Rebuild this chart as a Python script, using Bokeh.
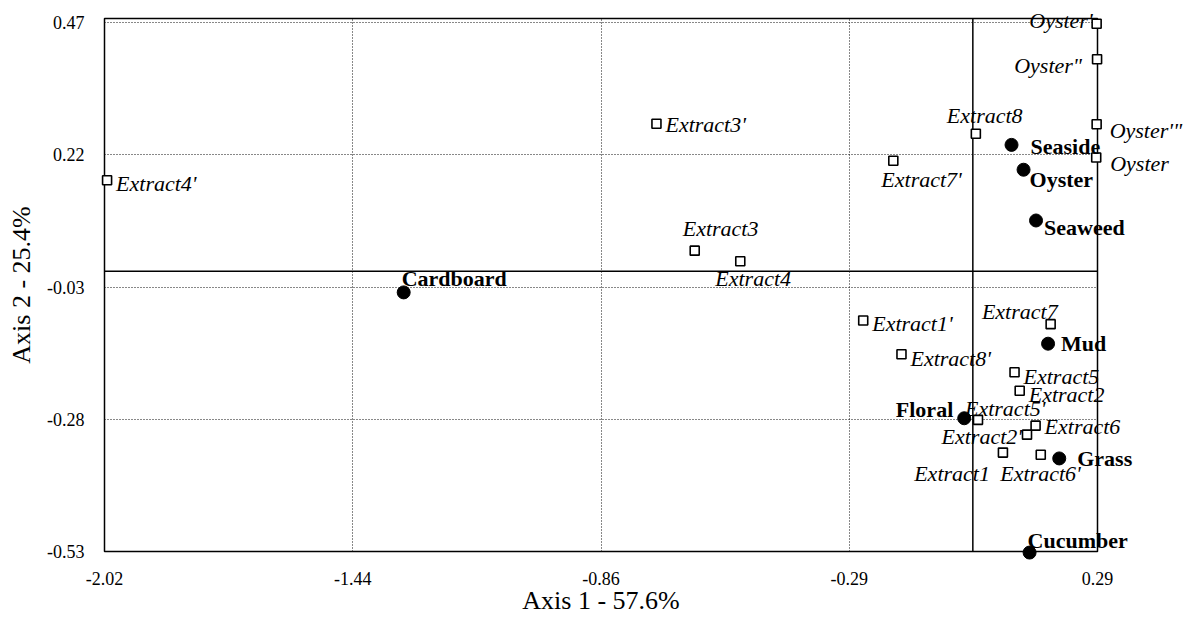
from bokeh.plotting import figure
from bokeh.models import FixedTicker, Span, ColumnDataSource, Range1d
from bokeh.core.properties import value
from bokeh.embed import file_html
from bokeh.resources import INLINE

# ---- data -------------------------------------------------------------
sq_labels = ["Extract4'", "Extract3'", "Extract3", "Extract4", "Extract7'", "Extract8",
             "Oyster'", 'Oyster"', "Oyster'\"", "Oyster",
             "Extract1'", "Extract7", "Extract8'", "Extract5", "Extract2", "Extract5'",
             "Extract6", "Extract2'", "Extract1", "Extract6'"]
sq_x = [-2.014, -0.736, -0.647, -0.541, -0.185, 0.007,
        0.288, 0.289, 0.288, 0.287,
        -0.255, 0.181, -0.166, 0.097, 0.109, 0.012,
        0.146, 0.126, 0.070, 0.158]
sq_y = [0.172, 0.279, 0.039, 0.019, 0.209, 0.260,
        0.468, 0.401, 0.278, 0.215,
        -0.093, -0.100, -0.157, -0.191, -0.226, -0.281,
        -0.292, -0.309, -0.343, -0.347]

ci_labels = ["Seaside", "Oyster", "Seaweed", "Cardboard", "Mud", "Floral", "Grass", "Cucumber"]
ci_x = [0.090, 0.118, 0.147, -1.324, 0.175, -0.020, 0.201, 0.132]
ci_y = [0.239, 0.192, 0.096, -0.040, -0.137, -0.278, -0.354, -0.532]

x_ticks = [-2.02, -1.4425, -0.865, -0.2875, 0.29]
x_tick_labels = ["-2.02", "-1.44", "-0.86", "-0.29", "0.29"]
y_ticks = [-0.53, -0.28, -0.03, 0.22, 0.47]
y_tick_labels = ["-0.53", "-0.28", "-0.03", "0.22", "0.47"]

x_title = "Axis 1 - 57.6%"
y_title = "Axis 2 - 25.4%"

# ---- label placement (style) -----------------------------------------
sq_place = [("left", 9, 3), ("left", 9, 1), ("left", -12, -22), ("left", -25, 17),
            ("left", -12, 19), ("left", -29, -18),
            ("right", -4, -3), ("right", -15, 6), ("left", 13, 6), ("left", 14, 6),
            ("left", 9, 3), ("right", 7, -13), ("left", 9, 4), ("left", 9, 4),
            ("left", 9, 4), ("left", -13, -11), ("left", 9, 1), ("right", -5, 2),
            ("right", -13, 21), ("right", 40, 19)]
ci_place = [("left", 19, 2), ("left", 6, 10), ("left", 8, 7), ("left", -2, -14),
            ("left", 13, 0), ("right", -11, -9), ("left", 18, 0), ("left", -2, -12)]

FONT = "Liberation Serif"

p = figure(width=1183, height=620, output_backend="svg", toolbar_location=None,
           x_range=Range1d(-2.02, 0.29), y_range=Range1d(-0.53, 0.478),
           min_border_left=104, min_border_right=86, min_border_top=18, min_border_bottom=69)
p.background_fill_color = "white"
p.border_fill_color = "white"
p.outline_line_color = "black"
p.outline_line_width = 1.5

for ax in (p.xaxis[0], p.yaxis[0]):
    ax.major_tick_line_color = None
    ax.minor_tick_line_color = None
    ax.axis_line_color = None
    ax.major_tick_out = 0
    ax.major_tick_in = 0
    ax.major_label_text_font = FONT
    ax.major_label_text_font_size = "18px"
    ax.major_label_text_color = "black"
    ax.axis_label_text_font = FONT
    ax.axis_label_text_font_size = "26px"
    ax.axis_label_text_font_style = "normal"
    ax.axis_label_text_color = "black"

p.xaxis.ticker = FixedTicker(ticks=x_ticks)
p.yaxis.ticker = FixedTicker(ticks=y_ticks)
p.xaxis.major_label_overrides = dict(zip(x_ticks, x_tick_labels))
p.yaxis.major_label_overrides = dict(zip(y_ticks, y_tick_labels))
p.xaxis.axis_label = x_title
p.yaxis.axis_label = y_title
p.xaxis.major_label_standoff = 20
p.xaxis.axis_label_standoff = -2
p.yaxis.major_label_standoff = 20
p.yaxis.axis_label_standoff = 8

for g in (p.xgrid[0], p.ygrid[0]):
    g.grid_line_color = "#111111"
    g.grid_line_dash = "1 2"
    g.grid_line_width = 1

p.add_layout(Span(location=0, dimension="height", line_color="black", line_width=1.5))
p.add_layout(Span(location=0, dimension="width", line_color="black", line_width=1.5))

sq_src = ColumnDataSource(dict(x=sq_x, y=sq_y, t=sq_labels,
                               al=[a for a, _, _ in sq_place],
                               xo=[o for _, o, _ in sq_place],
                               yo=[o for _, _, o in sq_place]))
ci_src = ColumnDataSource(dict(x=ci_x, y=ci_y, t=ci_labels,
                               al=[a for a, _, _ in ci_place],
                               xo=[o for _, o, _ in ci_place],
                               yo=[o for _, _, o in ci_place]))

r1 = p.scatter("x", "y", source=sq_src, marker="square", size=9, fill_color="white",
               line_color="black", line_width=1.6)
r2 = p.scatter("x", "y", source=ci_src, marker="circle", size=13, fill_color="black",
               line_color="black")
t1 = p.text("x", "y", text="t", source=sq_src, text_align="al", x_offset="xo", y_offset="yo",
            text_baseline="middle", text_font=value(FONT), text_font_style="italic",
            text_font_size="22px", text_color="black")
t2 = p.text("x", "y", text="t", source=ci_src, text_align="al", x_offset="xo", y_offset="yo",
            text_baseline="middle", text_font=value(FONT), text_font_style="bold",
            text_font_size="22px", text_color="black")
for r in (r1, r2, t1, t2):
    r.level = "overlay"

open("out.html", "w").write(file_html(p, INLINE))
